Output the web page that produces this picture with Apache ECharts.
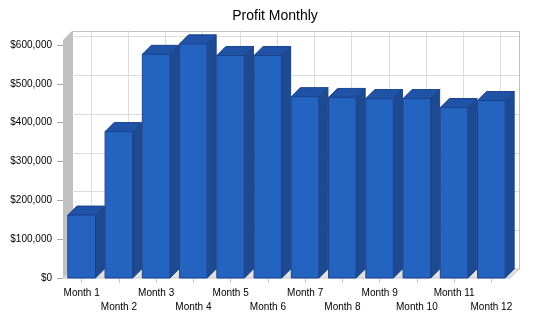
<!DOCTYPE html>
<html>
<head>
<meta charset="utf-8">
<script src="https://cdn.jsdelivr.net/npm/echarts@6/dist/echarts.min.js"></script>
<style>
html, body { margin: 0; padding: 0; background: #fff; }
#chart { width: 550px; height: 318px; }
</style>
</head>
<body>
<div id="chart"></div>
<script>
// data
const months = ['Month 1', 'Month 2', 'Month 3', 'Month 4', 'Month 5', 'Month 6',
    'Month 7', 'Month 8', 'Month 9', 'Month 10', 'Month 11', 'Month 12'];
const profit = [162000, 377000, 576000, 603000, 573000, 573000,
    467000, 465000, 462000, 462000, 439000, 457000];
const yTicks = [0, 100000, 200000, 300000, 400000, 500000, 600000];

// 3d depth offset of the back plane
const DX = 9, DY = -9;
const FONT = '"Liberation Sans", Arial, sans-serif';
const FRONT = '#2563c1', SIDE = '#1d4a91', TOP = '#2053a6', EDGE = '#1a438c';

let chart = echarts.init(document.getElementById('chart'));

// back wall, left wall, floor and gridlines
function renderWalls(params, api) {
    let cs = params.coordSys;
    let x0 = cs.x, x1 = cs.x + cs.width, yb = cs.y + cs.height, yt = cs.y - 5;
    let kids = [];
    kids.push({
        type: 'rect',
        shape: { x: x0 + DX + 0.5, y: yt + DY + 0.5, width: cs.width, height: yb - yt },
        style: { fill: '#fff', stroke: '#c0c0c0', lineWidth: 1 }
    });
    yTicks.forEach(v => {
        let y = Math.round(api.coord([0, v])[1] + DY) + 0.5;
        kids.push({
            type: 'line',
            shape: { x1: x0 + DX, y1: y, x2: x1 + DX, y2: y },
            style: { stroke: '#dcdcdc', lineWidth: 1 }
        });
    });
    months.forEach((m, i) => {
        let x = Math.round(api.coord([i, 0])[0] + DX) + 0.5;
        kids.push({
            type: 'line',
            shape: { x1: x, y1: yt + DY, x2: x, y2: yb + DY },
            style: { stroke: '#dcdcdc', lineWidth: 1 }
        });
    });
    kids.push({
        type: 'polygon',
        shape: { points: [[x0, yt], [x0 + DX, yt + DY], [x0 + DX, yb + DY], [x0, yb]] },
        style: { fill: '#c0c0c0' }
    });
    kids.push({
        type: 'polygon',
        shape: { points: [[x0, yb], [x0 + DX, yb + DY], [x1 + DX, yb + DY], [x1, yb]] },
        style: { fill: '#e2e2e2', stroke: '#c8c8c8', lineWidth: 1 }
    });
    return { type: 'group', children: kids };
}

// one 3d bar: side, top, front
function renderBar(params, api) {
    let top = api.coord([api.value(0), api.value(1)]);
    let base = api.coord([api.value(0), 0]);
    let w = api.size([1, 0])[0] * 0.74;
    let l = top[0] - w / 2, r = top[0] + w / 2, t = top[1], b = base[1];
    return {
        type: 'group',
        children: [
            {
                type: 'polygon',
                shape: { points: [[r, t], [r + DX, t + DY], [r + DX, b + DY], [r, b]] },
                style: { fill: SIDE, stroke: EDGE, lineWidth: 1 }
            },
            {
                type: 'polygon',
                shape: { points: [[l, t], [l + DX, t + DY], [r + DX, t + DY], [r, t]] },
                style: { fill: TOP, stroke: EDGE, lineWidth: 1 }
            },
            {
                type: 'rect',
                shape: { x: l, y: t, width: w, height: b - t },
                style: { fill: FRONT, stroke: EDGE, lineWidth: 1 }
            }
        ]
    };
}

let option = {
    animation: false,
    title: {
        text: 'Profit Monthly',
        left: 'center',
        top: 4,
        textStyle: { fontFamily: FONT, fontSize: 14, fontWeight: 'normal', color: '#000' }
    },
    grid: { left: 63, right: 40, top: 45, bottom: 40 },
    xAxis: {
        type: 'category',
        data: months,
        axisLine: { show: false },
        axisTick: { show: true, alignWithLabel: true, length: 5, lineStyle: { color: '#c8c8c8' } },
        axisLabel: {
            interval: 0,
            margin: 8,
            fontFamily: FONT,
            fontSize: 10,
            lineHeight: 14,
            color: '#000',
            formatter: (v, i) => (i % 2 ? '\n' + v : v)
        },
        splitLine: { show: false }
    },
    yAxis: {
        type: 'value',
        min: 0,
        max: 600000,
        interval: 100000,
        axisLine: { show: false },
        axisTick: { show: true, length: 6, lineStyle: { color: '#a8a8a8' } },
        axisLabel: {
            margin: 11,
            fontFamily: FONT,
            fontSize: 10,
            color: '#000',
            formatter: v => '$' + v.toLocaleString('en-US')
        },
        splitLine: { show: false }
    },
    series: [
        {
            type: 'custom',
            z: 1,
            silent: true,
            renderItem: renderWalls,
            data: [[0, 0]]
        },
        {
            type: 'custom',
            z: 2,
            renderItem: renderBar,
            encode: { x: 0, y: 1 },
            data: profit.map((v, i) => [i, v])
        }
    ]
};
chart.setOption(option);
</script>
</body>
</html>
